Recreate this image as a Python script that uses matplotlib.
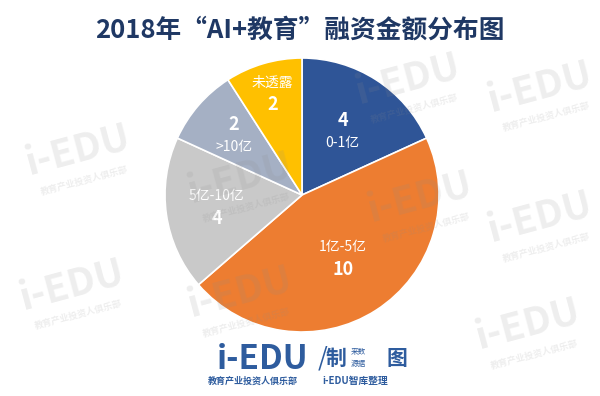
import numpy as np
import matplotlib.pyplot as plt

plt.rcParams['font.family'] = ['Noto Sans CJK SC', 'DejaVu Sans']

# 融资金额分布（起点12点钟方向，顺时针）
labels = ['0-1亿', '1亿-5亿', '5亿-10亿', '>10亿', '未透露']
counts = [4, 10, 4, 2, 2]
colors = ['#2F5597', '#ED7D31', '#C9C9C9', '#A5B0C4', '#FFC000']
# 每块里文字的径向位置，以及数字在上还是在下
label_r = [0.55, 0.55, 0.63, 0.66, 0.77]
num_first = [True, False, False, True, False]

fig = plt.figure(figsize=(6, 3.96), dpi=100)

cx, cy, r = 302 / 600, 1 - 195 / 396, 137
ax = fig.add_axes([cx - r / 600, cy - r / 396, 2 * r / 600, 2 * r / 396])
wedges, _ = ax.pie(counts, colors=colors, startangle=90, counterclock=False,
                   wedgeprops=dict(edgecolor='white', linewidth=1.2))
ax.set_xlim(-1, 1)
ax.set_ylim(-1, 1)
ax.set_aspect('equal')

for w, lab, n, rr, top in zip(wedges, labels, counts, label_r, num_first):
    ang = np.deg2rad((w.theta1 + w.theta2) / 2)
    x, y = rr * np.cos(ang), rr * np.sin(ang)
    dy = 0.08
    if top:
        ax.text(x, y + dy, str(n), color='white', fontsize=13, fontweight='bold',
                ha='center', va='center')
        ax.text(x, y - dy, lab, color='white', fontsize=10, ha='center', va='center')
    else:
        ax.text(x, y + dy, lab, color='white', fontsize=10, ha='center', va='center')
        ax.text(x, y - dy, str(n), color='white', fontsize=13, fontweight='bold',
                ha='center', va='center')

# 淡色水印
for wx, wy in [(0.13, 0.62), (0.40, 0.55), (0.68, 0.80), (0.90, 0.78),
               (0.12, 0.28), (0.40, 0.26), (0.70, 0.50), (0.90, 0.45), (0.88, 0.18)]:
    fig.text(wx, wy, 'i-EDU', fontsize=28, fontweight='bold', style='italic',
             color='#8c8c8c', alpha=0.15, ha='center', va='center', rotation=15, zorder=5)
    fig.text(wx + 0.01, wy - 0.075, '教育产业投资人俱乐部', fontsize=6.5, fontweight='bold',
             color='#8c8c8c', alpha=0.15, ha='center', va='center', rotation=15, zorder=5)

fig.text(0.5, 0.925, '2018年“AI+教育”融资金额分布图', fontsize=18.5, fontweight='bold',
         color='#1F3864', ha='center', va='center')

# 底部标识
blue = '#2E5C9E'
fig.text(0.438, 0.092, 'i-EDU', fontsize=24, fontweight='bold', style='italic',
         color=blue, ha='center', va='center')
fig.text(0.422, 0.038, '教育产业投资人俱乐部', fontsize=6.5, fontweight='bold',
         color=blue, ha='center', va='center')
fig.text(0.537, 0.095, '/', fontsize=18, color=blue, ha='center', va='center')
fig.text(0.560, 0.095, '制', fontsize=15, fontweight='bold', style='italic',
         color=blue, ha='center', va='center')
fig.text(0.597, 0.112, '来数', fontsize=5.5, color=blue, ha='center', va='center')
fig.text(0.597, 0.082, '源据', fontsize=5.5, color=blue, ha='center', va='center')
fig.text(0.662, 0.095, '图', fontsize=15, fontweight='bold',
         color=blue, ha='center', va='center')
fig.text(0.592, 0.038, 'i-EDU智库整理', fontsize=7, fontweight='bold',
         color=blue, ha='center', va='center')

fig.savefig('out.png', dpi=100)
